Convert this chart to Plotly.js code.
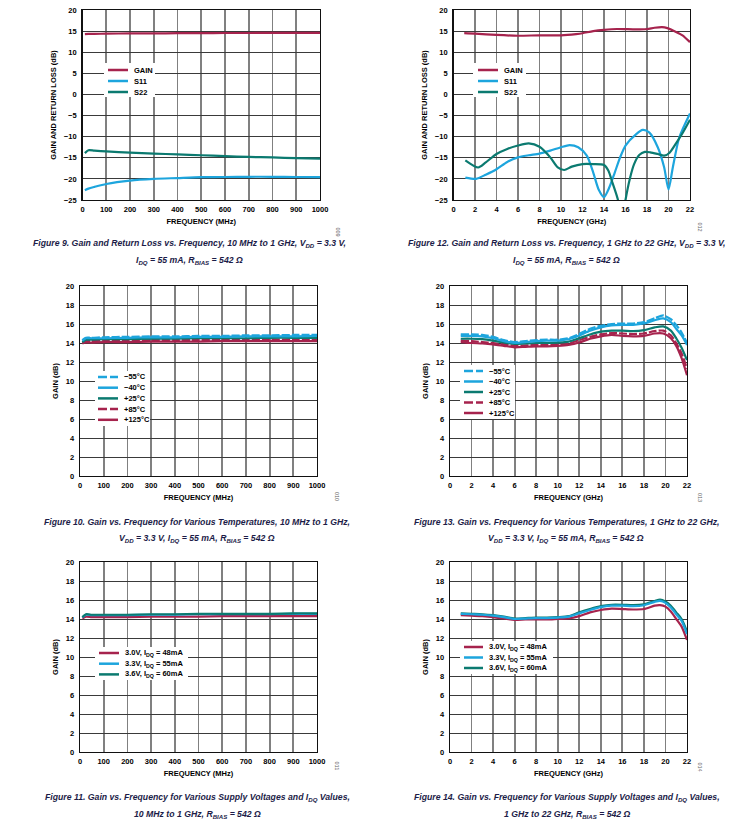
<!DOCTYPE html>
<html><head><meta charset="utf-8">
<script src="https://cdn.plot.ly/plotly-3.0.1.min.js"></script>
<style>body{margin:0;background:#fff}#chart{width:745px;height:835px}</style>
</head><body><div id="chart"></div>
<script>
// ---------- DATA ----------
// Figure 9: 10 MHz to 1 GHz
const f9 = [10, 25, 50, 100, 200, 300, 400, 500, 600, 700, 800, 900, 1000];
const gain9 = [14.3, 14.35, 14.35, 14.4, 14.45, 14.45, 14.5, 14.5, 14.55, 14.55, 14.6, 14.6, 14.6];
const s11_9 = [-22.7, -22.3, -21.9, -21.2, -20.4, -20.0, -19.8, -19.6, -19.55, -19.5, -19.5, -19.55, -19.6];
const s22_9 = [-13.9, -13.2, -13.3, -13.5, -13.8, -14.0, -14.2, -14.4, -14.6, -14.8, -14.9, -15.1, -15.2];

// Figure 12: 1 GHz to 22 GHz
const f12_gain = [1, 2, 4, 6, 8, 10, 11.4, 12, 13, 14, 15.2, 17, 18, 18.7, 19.4, 19.9, 20.7, 21.3, 22];
const gain12 = [14.5, 14.4, 14.1, 13.9, 14.0, 14.0, 14.3, 14.5, 15.0, 15.3, 15.5, 15.4, 15.5, 15.8, 15.95, 15.7, 14.8, 14.0, 12.4];
const f12_s11 = [1.1, 2.1, 3, 4, 5, 6, 7, 8, 9, 10, 10.8, 11.6, 12.4, 13, 13.5, 14, 14.5, 15, 15.5, 16, 17, 17.6, 18.2, 19, 19.6, 20, 20.4, 21, 22];
const s11_12 = [-19.7, -20.0, -19.0, -17.7, -16.0, -14.9, -14.4, -14.0, -13.3, -12.5, -12.0, -12.5, -14.5, -18.5, -22.5, -24.3, -22.0, -18.5, -14.9, -12.1, -9.4, -8.4, -9.0, -12.5, -17.3, -22.5, -17.3, -10.2, -4.5];
const f12_s22 = [1.1, 2.3, 3, 4, 5, 6, 7, 8, 9, 9.7, 10.3, 11, 12, 13, 14, 14.4, 14.8, 15.3, 15.65, 16.0, 16.4, 16.8, 17.3, 17.8, 18.3, 19, 19.6, 20.1, 20.7, 21.3, 22];
const s22_12 = [-15.6, -17.3, -16.1, -14.1, -12.9, -12.1, -11.6, -12.4, -14.9, -17.3, -17.9, -17.1, -16.5, -16.5, -16.7, -18.0, -21.0, -25.0, -31.0, -25.0, -20.0, -16.5, -14.3, -13.6, -13.7, -14.1, -14.5, -13.8, -11.6, -9.2, -6.0];

// Figure 10: gain vs temperature, 10 MHz to 1 GHz
const f10 = [10, 25, 50, 100, 200, 300, 400, 500, 600, 700, 800, 900, 1000];
const t10_m55 = [14.3, 14.55, 14.55, 14.6, 14.65, 14.7, 14.7, 14.75, 14.75, 14.8, 14.8, 14.85, 14.85];
const t10_m40 = [14.25, 14.5, 14.5, 14.5, 14.55, 14.6, 14.6, 14.65, 14.65, 14.7, 14.7, 14.7, 14.75];
const t10_p25 = [14.1, 14.35, 14.35, 14.4, 14.4, 14.45, 14.45, 14.5, 14.5, 14.5, 14.55, 14.55, 14.55];
const t10_p85 = [14.0, 14.2, 14.2, 14.25, 14.25, 14.3, 14.3, 14.3, 14.3, 14.35, 14.35, 14.35, 14.35];
const t10_p125 = [13.95, 14.05, 14.05, 14.1, 14.1, 14.15, 14.15, 14.15, 14.2, 14.2, 14.2, 14.2, 14.2];

// Figure 13: gain vs temperature, 1 GHz to 22 GHz
const f13 = [1, 2, 3, 4, 5, 6, 7, 8, 9, 10, 11, 12, 13, 14, 15, 16, 17, 18, 19, 19.8, 20.5, 21, 21.5, 22];
const t13_m55 = [14.9, 14.9, 14.85, 14.65, 14.3, 14.1, 14.2, 14.3, 14.35, 14.35, 14.5, 14.95, 15.5, 15.8, 16.0, 16.05, 16.05, 16.2, 16.6, 16.9, 16.5, 15.9, 15.1, 14.0];
const t13_m40 = [14.75, 14.75, 14.7, 14.5, 14.2, 14.0, 14.1, 14.2, 14.25, 14.25, 14.4, 14.8, 15.3, 15.65, 15.85, 15.9, 15.9, 16.05, 16.4, 16.6, 16.2, 15.5, 14.8, 13.8];
const t13_p25 = [14.45, 14.45, 14.4, 14.25, 14.05, 13.9, 13.95, 14.0, 14.0, 14.05, 14.15, 14.5, 14.9, 15.2, 15.3, 15.3, 15.25, 15.35, 15.65, 15.75, 15.3, 14.5, 13.5, 12.2];
const t13_p85 = [14.25, 14.2, 14.1, 14.0, 13.85, 13.7, 13.75, 13.8, 13.8, 13.85, 13.95, 14.3, 14.65, 14.9, 15.05, 15.0, 14.95, 15.0, 15.25, 15.3, 14.8, 14.0, 12.9, 11.3];
const t13_p125 = [14.1, 14.0, 13.95, 13.85, 13.7, 13.55, 13.6, 13.65, 13.65, 13.7, 13.8, 14.05, 14.45, 14.7, 14.85, 14.75, 14.7, 14.75, 15.0, 15.0, 14.5, 13.7, 12.4, 10.6];

// Figure 11: gain vs supply, 10 MHz to 1 GHz
const f11 = [10, 25, 50, 100, 200, 300, 400, 500, 600, 700, 800, 900, 1000];
const v11_30 = [14.05, 14.25, 14.2, 14.2, 14.2, 14.25, 14.25, 14.25, 14.3, 14.3, 14.3, 14.3, 14.3];
const v11_33 = [14.15, 14.45, 14.4, 14.4, 14.4, 14.45, 14.45, 14.5, 14.5, 14.5, 14.5, 14.55, 14.55];
const v11_36 = [14.2, 14.5, 14.45, 14.45, 14.45, 14.5, 14.5, 14.55, 14.55, 14.55, 14.55, 14.6, 14.6];

// Figure 14: gain vs supply, 1 GHz to 22 GHz
const f14 = [1, 2, 3, 4, 5, 6, 7, 8, 9, 10, 11, 12, 13, 14, 15, 16, 17, 18, 19, 19.5, 20, 20.5, 21, 21.5, 22];
const v14_30 = [14.4, 14.35, 14.3, 14.2, 14.05, 13.9, 13.95, 13.95, 13.95, 14.0, 14.05, 14.3, 14.7, 14.95, 15.1, 15.05, 15.0, 15.05, 15.4, 15.45, 15.3, 14.8, 14.0, 13.2, 11.8];
const v14_33 = [14.55, 14.5, 14.45, 14.35, 14.2, 14.0, 14.05, 14.1, 14.1, 14.15, 14.25, 14.6, 14.95, 15.25, 15.4, 15.4, 15.35, 15.45, 15.8, 15.9, 15.7, 15.2, 14.5, 13.8, 12.4];
const v14_36 = [14.6, 14.55, 14.5, 14.4, 14.25, 14.05, 14.1, 14.15, 14.15, 14.2, 14.3, 14.7, 15.05, 15.35, 15.5, 15.5, 15.45, 15.55, 15.9, 16.05, 15.85, 15.4, 14.7, 14.0, 12.7];

// Labels
const sparamLabels = ['GAIN', 'S11', 'S22'];
const tempLabels = ['\u221255°C', '\u221240°C', '+25°C', '+85°C', '+125°C'];
const supplyLabels = ['3.0V, I<sub>DQ</sub> = 48mA', '3.3V, I<sub>DQ</sub> = 55mA', '3.6V, I<sub>DQ</sub> = 60mA'];
const mhzTicks = [0, 100, 200, 300, 400, 500, 600, 700, 800, 900, 1000];
const ghzTicks = [0, 2, 4, 6, 8, 10, 12, 14, 16, 18, 20, 22];
const captions = [
  ['Figure 9. Gain and Return Loss vs. Frequency, 10 MHz to 1 GHz, V<sub>DD</sub> = 3.3 V,', 'I<sub>DQ</sub> = 55 mA, R<sub>BIAS</sub> = 542 Ω'],
  ['Figure 12. Gain and Return Loss vs. Frequency, 1 GHz to 22 GHz, V<sub>DD</sub> = 3.3 V,', 'I<sub>DQ</sub> = 55 mA, R<sub>BIAS</sub> = 542 Ω'],
  ['Figure 10. Gain vs. Frequency for Various Temperatures, 10 MHz to 1 GHz,', 'V<sub>DD</sub> = 3.3 V, I<sub>DQ</sub> = 55 mA, R<sub>BIAS</sub> = 542 Ω'],
  ['Figure 13. Gain vs. Frequency for Various Temperatures, 1 GHz to 22 GHz,', 'V<sub>DD</sub> = 3.3 V, I<sub>DQ</sub> = 55 mA, R<sub>BIAS</sub> = 542 Ω'],
  ['Figure 11. Gain vs. Frequency for Various Supply Voltages and I<sub>DQ</sub> Values,', '10 MHz to 1 GHz, R<sub>BIAS</sub> = 542 Ω'],
  ['Figure 14. Gain vs. Frequency for Various Supply Voltages and I<sub>DQ</sub> Values,', '1 GHz to 22 GHz, R<sub>BIAS</sub> = 542 Ω']
];
const figIds = ['009', '012', '010', '013', '011', '014'];

// ---------- STYLE / LAYOUT ----------
const W = 745, H = 835;
const px = x => x / W, py = y => 1 - y / H;
const CR = '#a6234d', LB = '#1da5dd', TL = '#0b7a70';
const CAP = '#1c1c48';
const FONT = 'Liberation Sans, Arial, sans-serif';

// panel boxes in pixels: [left, right, top, bottom]
const boxes = [
  [82.5, 320, 10, 200],
  [453.5, 690, 10, 200],
  [80, 317, 286, 476],
  [450, 687, 286, 476],
  [80, 317, 562, 752],
  [450, 687, 562, 752]
];

const traces = [];
function line(x, y, color, axis, name, dash) {
  traces.push({
    type: 'scatter', mode: 'lines', x: x, y: y, name: name,
    xaxis: 'x' + (axis === 1 ? '' : axis), yaxis: 'y' + (axis === 1 ? '' : axis),
    line: {color: color, width: 2.2, shape: 'spline', smoothing: 0.7, dash: dash || 'solid'},
    showlegend: false, hoverinfo: 'skip'
  });
}
const LONGDASH = '8px,2px';
// Panel 1
line(f9, gain9, CR, 1, sparamLabels[0]);
line(f9, s11_9, LB, 1, sparamLabels[1]);
line(f9, s22_9, TL, 1, sparamLabels[2]);
// Panel 2
line(f12_gain, gain12, CR, 2, sparamLabels[0]);
line(f12_s11, s11_12, LB, 2, sparamLabels[1]);
line(f12_s22, s22_12, TL, 2, sparamLabels[2]);
// Panel 3
line(f10, t10_p125, CR, 3, tempLabels[4]);
line(f10, t10_p85, CR, 3, tempLabels[3], LONGDASH);
line(f10, t10_p25, TL, 3, tempLabels[2]);
line(f10, t10_m40, LB, 3, tempLabels[1]);
line(f10, t10_m55, LB, 3, tempLabels[0], LONGDASH);
// Panel 4
line(f13, t13_p125, CR, 4, tempLabels[4]);
line(f13, t13_p85, CR, 4, tempLabels[3], LONGDASH);
line(f13, t13_p25, TL, 4, tempLabels[2]);
line(f13, t13_m40, LB, 4, tempLabels[1]);
line(f13, t13_m55, LB, 4, tempLabels[0], LONGDASH);
// Panel 5
line(f11, v11_30, CR, 5, supplyLabels[0]);
line(f11, v11_33, LB, 5, supplyLabels[1]);
line(f11, v11_36, TL, 5, supplyLabels[2]);
// Panel 6
line(f14, v14_30, CR, 6, supplyLabels[0]);
line(f14, v14_36, TL, 6, supplyLabels[2]);
line(f14, v14_33, LB, 6, supplyLabels[1]);

const layout = {
  width: W, height: H, margin: {l: 0, r: 0, t: 0, b: 0},
  paper_bgcolor: '#fff', plot_bgcolor: '#fff', showlegend: false,
  font: {family: FONT, color: '#000'},
  annotations: [], shapes: []
};

const xTitles = ['FREQUENCY (MHz)', 'FREQUENCY (GHz)', 'FREQUENCY (MHz)', 'FREQUENCY (GHz)', 'FREQUENCY (MHz)', 'FREQUENCY (GHz)'];
const yTitles = ['GAIN AND RETURN LOSS (dB)', 'GAIN AND RETURN LOSS (dB)', 'GAIN (dB)', 'GAIN (dB)', 'GAIN (dB)', 'GAIN (dB)'];
const tickFont = {family: FONT, size: 7.5, weight: 700, color: '#000'};
const titleFont = {family: FONT, size: 7.5, weight: 700, color: '#000'};

boxes.forEach((b, i) => {
  const n = i + 1, s = n === 1 ? '' : n;
  const mhz = (i % 2 === 0);
  layout['xaxis' + s] = {
    domain: [px(b[0]), px(b[1])], anchor: 'y' + s,
    range: mhz ? [0, 1000] : [0, 22],
    tickvals: mhz ? mhzTicks : ghzTicks,
    showgrid: true, gridcolor: '#808080', gridwidth: 1.8,
    zeroline: false, showline: true, mirror: true, linecolor: '#111', linewidth: 1.4,
    ticks: 'outside', ticklen: 2, tickcolor: 'rgba(0,0,0,0)',
    tickfont: tickFont, fixedrange: true,
    title: {text: xTitles[i], font: titleFont, standoff: 5}
  };
  layout['yaxis' + s] = {
    domain: [py(b[3]), py(b[2])], anchor: 'x' + s,
    range: i < 2 ? [-25, 20] : [0, 20], dtick: i < 2 ? 5 : 2, tick0: 0,
    showgrid: true, gridcolor: '#3a3a3a', gridwidth: 1,
    zeroline: false, showline: true, mirror: true, linecolor: '#111', linewidth: 1.4,
    ticks: 'outside', ticklen: 3, tickcolor: 'rgba(0,0,0,0)',
    tickfont: tickFont, fixedrange: true,
    title: {text: yTitles[i], font: titleFont, standoff: 6}
  };
});

// captions
const capPos = [[189, 244, 260], [566, 244, 260], [197, 522, 538], [566, 522, 538], [197, 797, 814], [567, 797, 814]];
captions.forEach((c, i) => {
  const p = capPos[i];
  [c[0], c[1]].forEach((t, k) => {
    layout.annotations.push({
      xref: 'paper', yref: 'paper', x: px(p[0]), y: py(p[1 + k]),
      xanchor: 'center', yanchor: 'middle', showarrow: false, text: t,
      font: {family: FONT, size: 8.7, weight: 700, style: 'italic', color: CAP}
    });
  });
});
// figure ids
const idPos = [[338, 225], [705, 220], [337, 496], [705, 497], [337, 772], [705, 773]];
figIds.forEach((t, i) => {
  layout.annotations.push({
    xref: 'paper', yref: 'paper', x: px(idPos[i][0]), y: py(idPos[i][1]),
    showarrow: false, text: t, textangle: 90,
    font: {family: FONT, size: 5.5, color: '#666'}
  });
});

// legends (drawn manually to match compact spacing)
function legend(bg, x0, x1, tx, y0, dy, items) {
  layout.shapes.push({type: 'rect', xref: 'paper', yref: 'paper',
    x0: px(bg[0]), x1: px(bg[1]), y0: py(bg[3]), y1: py(bg[2]),
    fillcolor: '#fff', line: {width: 0}, layer: 'above'});
  items.forEach((it, k) => {
    const y = y0 + k * dy;
    layout.shapes.push({type: 'line', xref: 'paper', yref: 'paper',
      x0: px(x0), x1: px(x1), y0: py(y), y1: py(y),
      line: {color: it[1], width: 2.5, dash: it[2] ? '9px,3px' : 'solid'}, layer: 'above'});
    layout.annotations.push({xref: 'paper', yref: 'paper', x: px(tx), y: py(y),
      xanchor: 'left', yanchor: 'middle', showarrow: false, text: it[0],
      font: {family: FONT, size: 7.5, weight: 700, color: '#000'}});
  });
}
const spItems = [[sparamLabels[0], CR], [sparamLabels[1], LB], [sparamLabels[2], TL]];
const tpItems = [[tempLabels[0], LB, 1], [tempLabels[1], LB], [tempLabels[2], TL], [tempLabels[3], CR, 1], [tempLabels[4], CR]];
const svItems = [[supplyLabels[0], CR], [supplyLabels[1], LB], [supplyLabels[2], TL]];
legend([104, 155, 63, 97], 108, 128, 132, 70, 11, spItems);
legend([473, 526, 63, 97], 478, 498, 502, 70, 11, spItems);
legend([95, 150, 371, 426], 98, 118, 122, 377, 10.7, tpItems);
legend([460, 515, 365, 419], 464, 483, 487, 371, 10.5, tpItems);
legend([95, 188, 647, 680], 99, 119, 123, 653, 10.7, svItems);
legend([460, 553, 641, 674], 464, 483, 487, 647, 10.5, svItems);

Plotly.newPlot('chart', traces, layout, {staticPlot: true, displayModeBar: false});
</script>
</body></html>
